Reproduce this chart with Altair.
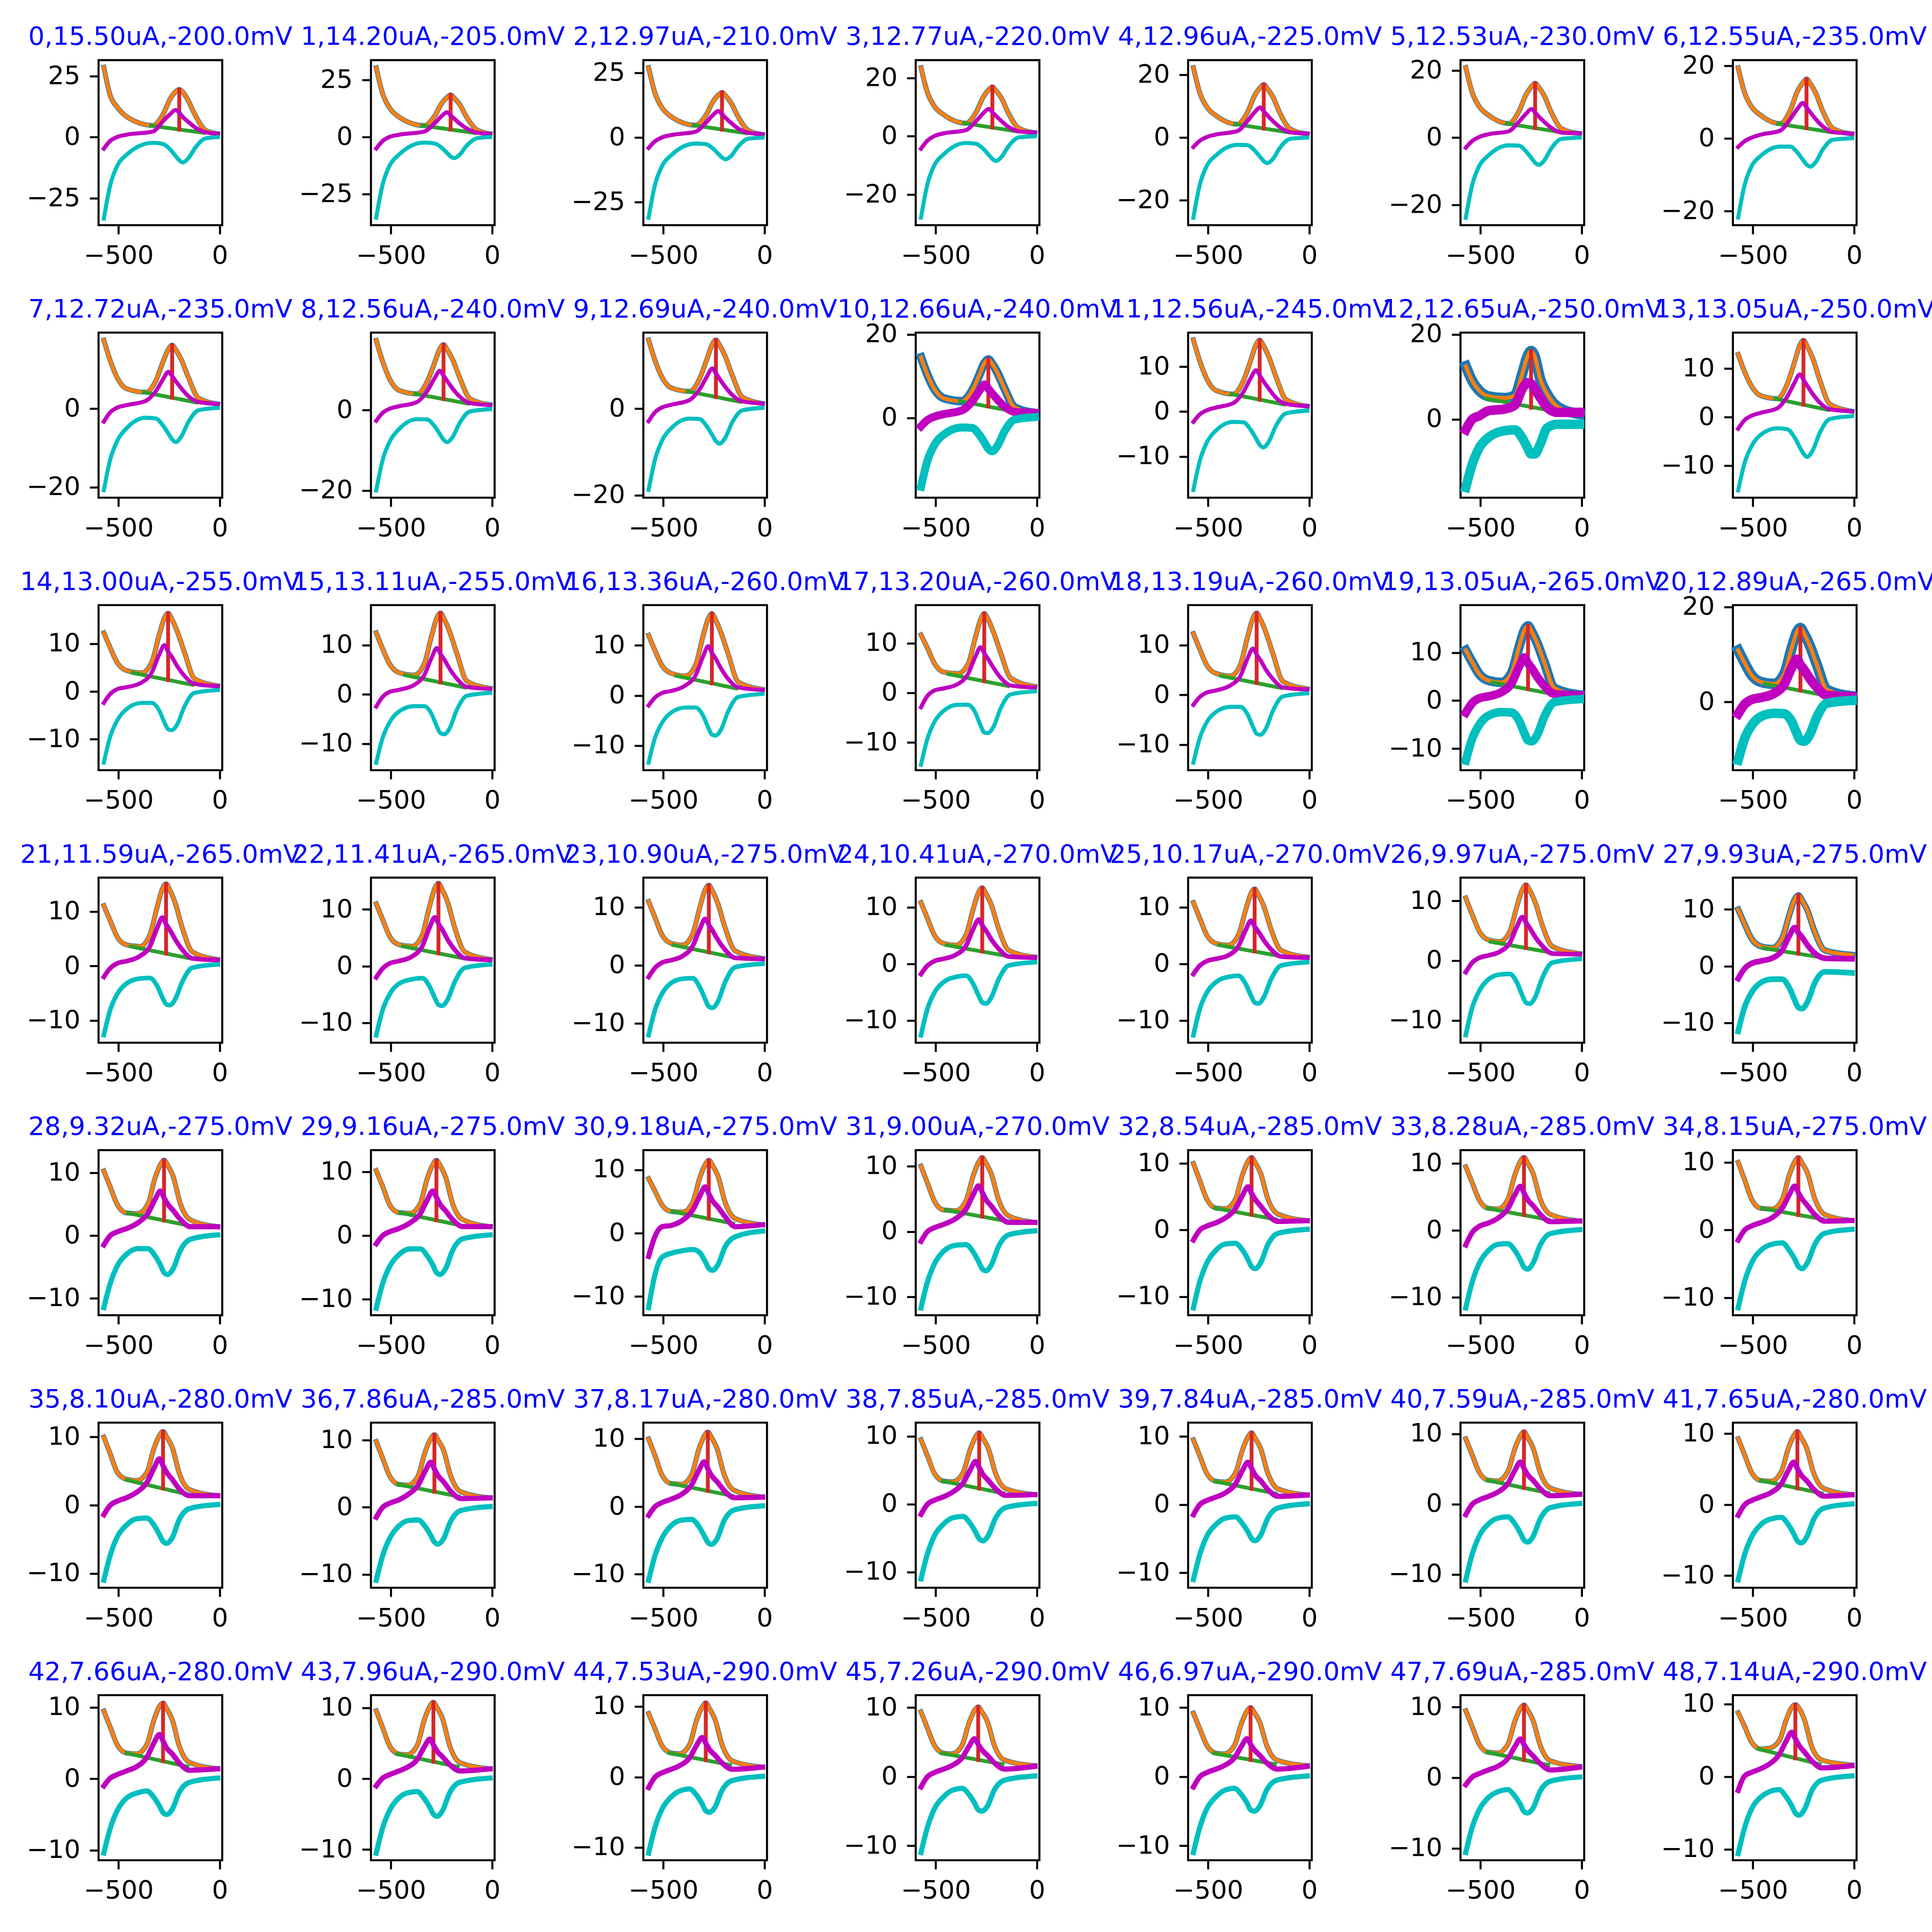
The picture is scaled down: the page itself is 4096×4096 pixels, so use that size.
import altair as alt
import pandas as pd

# ---------------- data ----------------
TITLES = [
    "0,15.50uA,-200.0mV", "1,14.20uA,-205.0mV", "2,12.97uA,-210.0mV", "3,12.77uA,-220.0mV",
    "4,12.96uA,-225.0mV", "5,12.53uA,-230.0mV", "6,12.55uA,-235.0mV",
    "7,12.72uA,-235.0mV", "8,12.56uA,-240.0mV", "9,12.69uA,-240.0mV", "10,12.66uA,-240.0mV",
    "11,12.56uA,-245.0mV", "12,12.65uA,-250.0mV", "13,13.05uA,-250.0mV",
    "14,13.00uA,-255.0mV", "15,13.11uA,-255.0mV", "16,13.36uA,-260.0mV", "17,13.20uA,-260.0mV",
    "18,13.19uA,-260.0mV", "19,13.05uA,-265.0mV", "20,12.89uA,-265.0mV",
    "21,11.59uA,-265.0mV", "22,11.41uA,-265.0mV", "23,10.90uA,-275.0mV", "24,10.41uA,-270.0mV",
    "25,10.17uA,-270.0mV", "26,9.97uA,-275.0mV", "27,9.93uA,-275.0mV",
    "28,9.32uA,-275.0mV", "29,9.16uA,-275.0mV", "30,9.18uA,-275.0mV", "31,9.00uA,-270.0mV",
    "32,8.54uA,-285.0mV", "33,8.28uA,-285.0mV", "34,8.15uA,-275.0mV",
    "35,8.10uA,-280.0mV", "36,7.86uA,-285.0mV", "37,8.17uA,-280.0mV", "38,7.85uA,-285.0mV",
    "39,7.84uA,-285.0mV", "40,7.59uA,-285.0mV", "41,7.65uA,-280.0mV",
    "42,7.66uA,-280.0mV", "43,7.96uA,-290.0mV", "44,7.53uA,-290.0mV", "45,7.26uA,-290.0mV",
    "46,6.97uA,-290.0mV", "47,7.69uA,-285.0mV", "48,7.14uA,-290.0mV",
]

PEAK_MV = [-200, -205, -210, -220, -225, -230, -235,
           -235, -240, -240, -240, -245, -250, -250,
           -255, -255, -260, -260, -260, -265, -265,
           -265, -265, -275, -270, -270, -275, -275,
           -275, -275, -275, -270, -285, -285, -275,
           -280, -285, -280, -285, -285, -285, -280,
           -280, -290, -290, -290, -290, -285, -290]

X_LIMITS = [-598, 12]
X_TICKS = [-500, 0]
# potentials of the sampled points: fixed ones on the left, ones around the peak, last one
X_LEFT = [-572, -540, -505, -460]
PEAK_OFFSETS = [-130, -80, -45, -18, 0, 18, 45, 80, 130]
X_END = -10

Y_LIMITS = [
    [-36.0, 31.5], [-38.5, 33.6], [-33.9, 30.0], [-30.6, 26.2], [-27.9, 24.7], [-26.1, 23.1], [-23.9, 21.5],
    [-22.7, 19.4], [-21.8, 19.2], [-20.6, 17.6], [-19.1, 20.4], [-19.2, 17.6], [-18.5, 20.4], [-16.6, 17.4],
    [-16.5, 18.1], [-15.4, 18.1], [-14.9, 18.0], [-15.6, 17.7], [-15.1, 18.0], [-14.5, 19.9], [-14.4, 20.4],
    [-14.1, 16.25], [-13.5, 15.6], [-13.3, 15.1], [-13.9, 15.2], [-13.9, 15.2], [-13.7, 13.9], [-13.5, 15.6],
    [-12.7, 13.6], [-12.5, 13.4], [-13.0, 13.1], [-12.8, 12.45], [-12.8, 12.0], [-12.7, 12.0], [-12.6, 11.8],
    [-12.1, 12.1], [-12.0, 12.6], [-12.0, 12.4], [-12.3, 12.0], [-12.2, 12.0], [-11.9, 11.6], [-11.7, 11.55],
    [-11.4, 11.7], [-11.5, 11.8], [-11.8, 11.6], [-12.1, 11.8], [-12.1, 11.8], [-11.7, 11.7], [-11.5, 11.2],
]

Y_TICKS = ([[-25, 0, 25]] * 3 + [[-20, 0, 20]] * 4 + [[-20, 0]] * 3 + [[0, 20]] + [[-10, 0, 10]]
           + [[0, 20]] + [[-10, 0, 10]] * 7 + [[0, 20]] + [[-10, 0, 10]] * 28)

# net current (blue raw, orange fit) at the sampled potentials
BLUE = [
    [28.6, 16.9, 12.2, 8.4, 4.8, 9.3, 15.6, 18.6, 19.5, 18.4, 14.8, 8.8, 2.8, 1.4],
    [30.3, 18.9, 12.6, 8.8, 5.0, 9.0, 14.6, 17.3, 18.4, 17.0, 14.2, 8.5, 3.1, 1.4],
    [27.1, 17.1, 11.5, 8.1, 4.8, 8.6, 13.9, 16.5, 17.5, 16.2, 13.4, 8.0, 2.8, 1.2],
    [23.6, 15.0, 10.2, 7.4, 4.5, 8.3, 13.5, 16.0, 17.0, 15.7, 13.1, 7.8, 2.8, 1.2],
    [22.3, 14.2, 9.7, 7.0, 4.3, 8.1, 13.4, 15.9, 16.9, 15.6, 13.0, 7.8, 2.8, 1.2],
    [20.9, 13.4, 9.2, 6.7, 4.2, 7.8, 12.8, 15.2, 16.2, 15.0, 12.5, 7.5, 2.7, 1.2],
    [19.4, 12.5, 8.6, 6.3, 4.0, 7.7, 12.9, 15.3, 16.3, 15.1, 12.5, 7.5, 2.7, 1.2],
    [17.5, 12.2, 7.8, 5.1, 4.2, 7.2, 12.0, 15.2, 16.2, 15.0, 12.5, 8.0, 2.7, 1.2],
    [17.3, 12.0, 7.6, 4.9, 4.0, 7.1, 11.6, 15.2, 16.2, 15.0, 12.5, 8.0, 2.8, 1.3],
    [15.9, 11.1, 7.2, 4.8, 4.0, 7.0, 11.4, 14.9, 15.9, 14.7, 12.2, 7.8, 2.7, 1.2],
    [14.5, 10.3, 6.8, 4.7, 4.0, 6.5, 10.2, 13.2, 14.0, 13.0, 10.8, 7.0, 2.5, 1.2],
    [16.0, 11.2, 7.2, 4.7, 3.9, 6.9, 11.3, 14.9, 15.9, 14.7, 12.2, 7.8, 2.7, 1.2],
    [12.5, 9.0, 6.7, 5.4, 5.0, 5.6, 10.5, 14.8, 16.1, 14.8, 9.5, 5.9, 3.0, 1.2],
    [12.9, 9.3, 6.3, 4.4, 3.8, 6.8, 11.2, 14.8, 15.8, 14.6, 12.2, 7.7, 2.7, 1.2],
    [12.3, 9.1, 6.0, 4.4, 3.9, 6.2, 11.7, 15.4, 16.4, 15.2, 12.6, 8.3, 2.7, 1.2],
    [12.5, 9.2, 6.1, 4.4, 3.9, 6.2, 11.7, 15.5, 16.5, 15.3, 12.7, 8.4, 2.7, 1.2],
    [12.0, 8.9, 5.9, 4.4, 3.9, 6.1, 11.6, 15.3, 16.3, 15.1, 12.5, 8.3, 2.7, 1.2],
    [11.7, 9.0, 5.9, 4.2, 3.9, 5.8, 11.0, 14.8, 16.0, 14.9, 12.3, 8.2, 3.0, 1.3],
    [12.3, 9.1, 5.9, 4.3, 3.8, 6.1, 11.6, 15.4, 16.4, 15.2, 12.6, 8.3, 2.7, 1.2],
    [10.5, 8.0, 5.5, 4.2, 3.8, 5.9, 11.1, 14.7, 15.6, 14.4, 12.0, 8.0, 2.6, 1.2],
    [10.9, 8.2, 5.6, 4.2, 3.8, 5.9, 11.1, 14.7, 15.6, 14.4, 12.0, 8.0, 2.6, 1.2],
    [11.1, 8.3, 5.3, 3.9, 3.6, 5.7, 10.7, 14.2, 15.1, 14.0, 11.6, 7.0, 2.6, 1.2],
    [11.0, 8.2, 5.2, 3.8, 3.5, 5.5, 10.4, 13.7, 14.6, 13.5, 11.3, 6.8, 2.5, 1.2],
    [11.0, 8.2, 5.2, 3.8, 3.5, 5.4, 9.9, 13.0, 13.8, 12.8, 10.6, 6.5, 2.5, 1.2],
    [10.8, 8.0, 5.0, 3.6, 3.3, 5.1, 9.6, 12.6, 13.4, 12.4, 10.4, 6.3, 2.4, 1.2],
    [10.8, 8.0, 5.0, 3.6, 3.3, 5.1, 9.4, 12.4, 13.2, 12.2, 10.2, 6.2, 2.4, 1.2],
    [10.5, 7.7, 4.9, 3.5, 3.2, 4.9, 9.1, 11.9, 12.7, 11.8, 9.8, 6.0, 2.4, 1.2],
    [10.0, 7.4, 4.8, 3.5, 3.2, 4.9, 9.0, 11.8, 12.5, 11.6, 9.8, 6.1, 2.8, 2.0],
    [10.3, 7.7, 4.9, 3.6, 3.5, 5.0, 9.1, 11.3, 12.0, 11.2, 9.4, 5.1, 2.5, 1.4],
    [10.2, 7.7, 4.8, 3.6, 3.5, 5.0, 9.0, 11.1, 11.8, 11.0, 9.2, 5.0, 2.5, 1.4],
    [8.6, 6.6, 4.4, 3.4, 3.3, 4.8, 8.7, 10.8, 11.5, 10.7, 9.0, 4.9, 2.3, 1.3],
    [10.0, 7.4, 4.6, 3.3, 3.2, 4.7, 8.5, 10.6, 11.3, 10.5, 8.8, 4.9, 2.4, 1.4],
    [10.0, 7.4, 4.6, 3.3, 3.2, 4.6, 8.3, 10.3, 10.9, 10.1, 8.5, 4.7, 2.4, 1.4],
    [9.5, 7.1, 4.5, 3.3, 3.2, 4.6, 8.3, 10.3, 10.9, 10.1, 8.5, 4.7, 2.4, 1.4],
    [10.0, 7.4, 4.5, 3.2, 3.1, 4.5, 8.1, 10.1, 10.7, 9.9, 8.4, 4.7, 2.3, 1.4],
    [10.0, 7.5, 4.8, 3.8, 3.6, 4.8, 8.3, 10.2, 10.8, 10.0, 8.5, 4.7, 2.3, 1.4],
    [9.8, 7.3, 4.6, 3.4, 3.3, 4.7, 8.3, 10.2, 10.8, 10.0, 8.5, 4.7, 2.3, 1.4],
    [10.0, 7.5, 4.6, 3.4, 3.3, 4.7, 8.4, 10.4, 11.0, 10.2, 8.6, 4.8, 2.4, 1.4],
    [9.5, 7.1, 4.5, 3.4, 3.3, 4.6, 8.0, 9.9, 10.5, 9.7, 8.2, 4.6, 2.3, 1.4],
    [9.5, 7.1, 4.5, 3.4, 3.3, 4.6, 8.0, 9.9, 10.5, 9.7, 8.2, 4.6, 2.3, 1.4],
    [9.3, 7.0, 4.5, 3.4, 3.3, 4.6, 7.9, 9.7, 10.3, 9.5, 8.0, 4.5, 2.3, 1.4],
    [9.3, 7.0, 4.5, 3.4, 3.3, 4.6, 7.9, 9.7, 10.3, 9.5, 8.0, 4.5, 2.3, 1.4],
    [9.5, 7.2, 4.7, 3.6, 3.5, 4.8, 8.2, 10.1, 10.6, 9.8, 8.3, 4.6, 2.3, 1.4],
    [9.6, 7.2, 4.6, 3.5, 3.4, 4.7, 8.3, 10.2, 10.8, 10.0, 8.5, 4.7, 2.3, 1.4],
    [9.0, 6.8, 4.4, 3.4, 3.3, 4.6, 8.1, 9.9, 10.5, 9.7, 8.2, 4.6, 2.3, 1.4],
    [9.4, 7.0, 4.5, 3.4, 3.3, 4.5, 7.8, 9.6, 10.1, 9.4, 8.0, 4.5, 2.4, 1.6],
    [9.2, 6.9, 4.5, 3.4, 3.3, 4.5, 7.7, 9.5, 10.0, 9.3, 7.9, 4.5, 2.4, 1.6],
    [9.5, 7.2, 4.7, 3.6, 3.5, 4.7, 8.0, 9.8, 10.3, 9.6, 8.1, 4.6, 2.4, 1.6],
    [8.8, 6.9, 4.7, 3.8, 3.9, 4.9, 7.8, 9.5, 9.9, 9.4, 7.8, 4.2, 2.3, 1.6],
]

# forward current (magenta)
MAGENTA = [
    [-4.7, -1.5, 0.1, 1.0, 2.3, 6.5, 9.4, 11.1, 10.0, 8.2, 6.2, 3.9, 2.0, 1.4],
    [-5.0, -1.7, 0.1, 1.0, 2.4, 5.9, 9.1, 10.8, 9.5, 8.0, 5.9, 3.7, 1.9, 1.4],
    [-4.0, -1.4, 0.1, 1.0, 2.3, 5.7, 8.7, 10.3, 9.1, 7.6, 5.7, 3.5, 1.9, 1.3],
    [-4.3, -1.5, 0.1, 1.0, 2.1, 5.2, 7.9, 9.4, 8.3, 7.0, 5.2, 3.2, 1.7, 1.3],
    [-3.0, -1.0, 0.2, 1.0, 2.1, 5.3, 8.1, 9.6, 8.4, 7.1, 5.3, 3.3, 1.7, 1.3],
    [-3.0, -1.0, 0.2, 1.0, 1.9, 4.7, 7.1, 8.5, 7.5, 6.3, 4.7, 2.9, 1.5, 1.3],
    [-2.4, -0.8, 0.2, 1.0, 2.1, 5.3, 8.1, 9.7, 8.5, 7.2, 5.3, 3.3, 1.7, 1.3],
    [-3.3, -0.9, 0.3, 0.9, 2.0, 4.5, 7.5, 9.4, 8.3, 7.0, 5.2, 3.2, 1.7, 1.2],
    [-2.7, -0.7, 0.3, 0.9, 2.0, 4.7, 7.8, 9.7, 8.5, 7.2, 5.3, 3.3, 1.7, 1.2],
    [-2.9, -0.8, 0.3, 0.9, 2.0, 4.5, 7.4, 9.3, 8.2, 6.9, 5.1, 3.2, 1.7, 1.2],
    [-2.0, -0.5, 0.3, 0.9, 1.8, 3.9, 6.4, 8.0, 7.0, 5.9, 4.4, 2.7, 1.4, 1.2],
    [-2.3, -0.6, 0.3, 0.9, 1.9, 4.4, 7.4, 9.2, 8.1, 6.8, 5.1, 3.1, 1.7, 1.2],
    [-2.5, 0.0, 0.8, 2.0, 2.4, 3.3, 7.0, 8.6, 8.4, 7.1, 5.1, 2.7, 1.6, 1.6],
    [-2.4, -0.6, 0.3, 0.9, 1.8, 4.2, 7.0, 8.8, 7.7, 6.5, 4.8, 3.0, 1.6, 1.2],
    [-2.4, -0.5, 0.5, 0.9, 1.9, 4.0, 7.6, 9.7, 8.4, 7.3, 5.3, 3.3, 1.6, 1.1],
    [-2.5, -0.5, 0.5, 0.9, 1.9, 3.9, 7.3, 9.4, 8.2, 7.1, 5.2, 3.2, 1.5, 1.1],
    [-2.0, -0.4, 0.5, 0.9, 2.0, 4.0, 7.6, 9.8, 8.5, 7.4, 5.4, 3.3, 1.6, 1.1],
    [-2.9, -0.6, 0.5, 0.9, 1.8, 3.8, 7.2, 9.2, 8.0, 6.9, 5.1, 3.1, 1.5, 1.1],
    [-2.0, -0.4, 0.5, 0.9, 1.9, 3.8, 7.3, 9.3, 8.1, 7.0, 5.1, 3.2, 1.5, 1.1],
    [-2.5, -0.5, 0.5, 0.9, 1.8, 3.7, 7.0, 9.0, 7.8, 6.8, 5.0, 3.1, 1.4, 1.1],
    [-2.5, -0.5, 0.5, 0.9, 1.8, 3.7, 7.0, 9.0, 7.8, 6.8, 5.0, 3.1, 1.4, 1.1],
    [-2.0, -0.4, 0.5, 0.9, 1.8, 3.6, 6.9, 8.9, 7.7, 6.7, 4.9, 3.0, 1.4, 1.1],
    [-2.0, -0.4, 0.5, 0.9, 1.7, 3.5, 6.7, 8.6, 7.5, 6.5, 4.7, 2.9, 1.4, 1.1],
    [-2.0, -0.4, 0.5, 0.9, 1.6, 3.3, 6.2, 8.0, 7.0, 6.0, 4.4, 2.7, 1.3, 1.1],
    [-1.8, -0.3, 0.5, 0.9, 1.6, 3.2, 6.1, 7.8, 6.8, 5.9, 4.3, 2.7, 1.3, 1.1],
    [-1.8, -0.3, 0.5, 0.9, 1.5, 3.1, 5.9, 7.6, 6.6, 5.7, 4.2, 2.6, 1.3, 1.1],
    [-1.9, -0.3, 0.5, 0.9, 1.5, 3.0, 5.7, 7.3, 6.4, 5.5, 4.0, 2.5, 1.2, 1.1],
    [-2.2, -0.4, 0.5, 0.9, 1.4, 2.8, 5.3, 6.8, 5.9, 5.1, 3.7, 2.3, 1.4, 1.3],
    [-1.5, 0.0, 0.6, 1.1, 2.0, 3.5, 5.7, 7.1, 6.0, 5.0, 4.0, 2.6, 1.4, 1.4],
    [-1.3, 0.0, 0.6, 1.1, 2.0, 3.4, 5.6, 7.0, 6.0, 4.9, 3.9, 2.5, 1.4, 1.4],
    [-3.7, -0.5, 1.0, 1.2, 2.0, 3.6, 5.8, 7.3, 6.2, 5.1, 4.1, 2.6, 1.0, 1.3],
    [-1.5, 0.0, 0.6, 1.1, 2.0, 3.4, 5.6, 7.0, 6.0, 4.9, 3.9, 2.5, 1.4, 1.4],
    [-1.5, 0.0, 0.6, 1.1, 1.8, 3.2, 5.2, 6.5, 5.5, 4.6, 3.6, 2.3, 1.3, 1.4],
    [-2.2, -0.3, 0.6, 1.1, 1.8, 3.2, 5.3, 6.6, 5.6, 4.6, 3.7, 2.4, 1.3, 1.4],
    [-1.5, 0.0, 0.6, 1.1, 1.8, 3.2, 5.2, 6.5, 5.5, 4.6, 3.6, 2.3, 1.3, 1.4],
    [-1.4, 0.0, 0.6, 1.1, 1.9, 3.3, 5.4, 6.8, 5.8, 4.8, 3.8, 2.4, 1.4, 1.4],
    [-1.5, 0.0, 0.6, 1.1, 1.9, 3.3, 5.4, 6.7, 5.7, 4.7, 3.8, 2.4, 1.3, 1.4],
    [-1.3, 0.0, 0.6, 1.1, 1.8, 3.2, 5.3, 6.6, 5.6, 4.6, 3.7, 2.4, 1.3, 1.4],
    [-1.5, 0.0, 0.6, 1.1, 1.8, 3.1, 5.0, 6.3, 5.4, 4.4, 3.5, 2.3, 1.3, 1.4],
    [-1.5, 0.0, 0.6, 1.1, 1.7, 3.0, 5.0, 6.2, 5.3, 4.3, 3.5, 2.2, 1.2, 1.4],
    [-1.5, 0.0, 0.6, 1.1, 1.7, 2.9, 4.8, 6.0, 5.1, 4.2, 3.4, 2.2, 1.2, 1.4],
    [-1.5, 0.0, 0.6, 1.1, 1.7, 2.9, 4.8, 6.0, 5.1, 4.2, 3.4, 2.2, 1.2, 1.4],
    [-1.0, 0.1, 0.6, 1.1, 1.7, 3.0, 5.0, 6.2, 5.3, 4.3, 3.5, 2.2, 1.2, 1.4],
    [-1.0, 0.1, 0.6, 1.1, 1.6, 2.7, 4.5, 5.6, 4.8, 3.9, 3.1, 2.0, 1.1, 1.4],
    [-1.5, 0.0, 0.6, 1.1, 1.6, 2.7, 4.5, 5.6, 4.8, 3.9, 3.1, 2.0, 1.1, 1.4],
    [-1.5, 0.0, 0.6, 1.1, 1.6, 2.7, 4.4, 5.5, 4.7, 3.9, 3.1, 2.0, 1.1, 1.5],
    [-1.5, 0.0, 0.6, 1.1, 1.6, 2.7, 4.4, 5.5, 4.7, 3.9, 3.1, 2.0, 1.1, 1.5],
    [-1.0, 0.1, 0.6, 1.1, 1.6, 2.7, 4.4, 5.5, 4.7, 3.9, 3.1, 2.0, 1.1, 1.5],
    [-1.9, 0.1, 0.6, 1.1, 1.7, 3.0, 4.9, 6.1, 5.2, 4.3, 3.4, 2.2, 1.2, 1.5],
]

# reverse current (cyan)
CYAN = [
    [-33.3, -19.5, -11.6, -7.2, -2.3, -2.8, -5.0, -7.7, -9.4, -10.3, -8.6, -4.2, -0.5, 0.0],
    [-35.2, -20.6, -12.3, -7.7, -2.4, -2.8, -4.6, -6.9, -8.5, -9.2, -7.7, -3.7, -0.5, 0.0],
    [-31.0, -18.1, -10.9, -6.8, -2.3, -2.5, -4.2, -6.3, -7.7, -8.4, -7.1, -3.4, -0.4, 0.0],
    [-28.0, -16.4, -9.8, -6.2, -2.3, -2.6, -4.3, -6.4, -7.8, -8.5, -7.1, -3.4, -0.4, 0.0],
    [-25.5, -14.9, -8.9, -5.6, -2.3, -2.4, -4.1, -6.1, -7.5, -8.1, -6.8, -3.2, -0.4, 0.0],
    [-23.9, -14.0, -8.4, -5.3, -2.3, -2.4, -4.1, -6.1, -7.5, -8.1, -6.8, -3.2, -0.4, 0.0],
    [-21.8, -12.8, -7.6, -4.8, -2.3, -2.3, -3.9, -5.9, -7.2, -7.8, -6.6, -3.1, -0.4, 0.0],
    [-20.8, -12.9, -8.1, -5.0, -2.3, -2.5, -4.3, -6.4, -7.8, -8.5, -7.1, -3.4, -0.4, 0.2],
    [-20.0, -12.4, -7.8, -4.8, -2.3, -2.4, -4.0, -6.0, -7.4, -8.0, -6.7, -3.2, -0.4, 0.2],
    [-18.8, -11.7, -7.3, -4.5, -2.3, -2.4, -4.1, -6.1, -7.5, -8.1, -6.8, -3.2, -0.4, 0.2],
    [-16.5, -10.2, -6.4, -4.0, -2.3, -2.4, -4.0, -6.0, -7.4, -8.0, -6.7, -3.2, -0.4, 0.2],
    [-17.5, -10.9, -6.8, -4.2, -2.3, -2.4, -4.0, -6.0, -7.4, -8.0, -6.7, -3.2, -0.4, 0.2],
    [-16.1, -10.6, -6.7, -4.3, -2.7, -2.5, -4.3, -6.7, -8.2, -8.2, -5.9, -2.0, -1.2, -1.2],
    [-15.1, -9.4, -5.9, -3.6, -2.3, -2.5, -4.1, -6.2, -7.5, -8.2, -6.9, -3.3, -0.4, 0.2],
    [-14.9, -9.4, -6.0, -3.7, -2.4, -2.4, -3.9, -6.5, -7.9, -8.1, -6.9, -3.2, -0.3, 0.3],
    [-13.9, -8.8, -5.6, -3.5, -2.4, -2.4, -3.9, -6.5, -7.9, -8.1, -6.9, -3.2, -0.3, 0.3],
    [-13.4, -8.4, -5.4, -3.4, -2.4, -2.4, -3.9, -6.4, -7.8, -8.0, -6.8, -3.2, -0.3, 0.3],
    [-14.5, -9.2, -5.8, -3.6, -2.4, -2.4, -3.9, -6.6, -8.0, -8.1, -6.9, -3.2, -0.3, 0.3],
    [-13.6, -8.6, -5.4, -3.4, -2.4, -2.4, -3.9, -6.4, -7.8, -8.0, -6.8, -3.2, -0.3, 0.3],
    [-12.5, -7.9, -5.0, -3.1, -2.4, -2.5, -4.1, -6.8, -8.3, -8.5, -7.2, -3.4, -0.3, 0.3],
    [-12.3, -7.7, -4.9, -3.1, -2.4, -2.5, -4.0, -6.6, -8.1, -8.3, -7.0, -3.3, -0.3, 0.3],
    [-12.7, -8.0, -5.1, -3.2, -2.3, -2.2, -3.6, -5.8, -7.0, -7.2, -6.1, -2.9, -0.3, 0.3],
    [-12.2, -7.7, -4.9, -3.1, -2.3, -2.1, -3.5, -5.6, -6.8, -7.0, -5.9, -2.8, -0.3, 0.3],
    [-12.0, -7.6, -4.8, -3.0, -2.3, -2.2, -3.7, -5.8, -7.1, -7.3, -6.2, -2.9, -0.3, 0.3],
    [-12.6, -7.9, -5.0, -3.2, -2.3, -2.1, -3.5, -5.6, -6.8, -7.0, -5.9, -2.8, -0.3, 0.3],
    [-12.6, -7.9, -5.0, -3.2, -2.3, -2.1, -3.5, -5.6, -6.8, -7.0, -5.9, -2.8, -0.3, 0.3],
    [-12.4, -7.8, -5.0, -3.1, -2.3, -2.2, -3.6, -5.8, -7.0, -7.2, -6.1, -2.9, -0.3, 0.3],
    [-11.5, -7.2, -4.6, -2.9, -2.3, -2.3, -3.8, -6.0, -7.3, -7.5, -6.3, -3.0, -1.0, -1.2],
    [-11.5, -7.6, -4.8, -3.0, -2.1, -2.1, -3.2, -4.7, -5.9, -6.2, -5.3, -2.4, -0.6, 0.1],
    [-11.4, -7.5, -4.8, -3.0, -2.1, -2.1, -3.2, -4.6, -5.8, -6.1, -5.2, -2.3, -0.5, 0.1],
    [-11.8, -6.5, -3.8, -3.2, -2.8, -2.6, -3.1, -4.5, -5.6, -5.9, -5.0, -2.2, -0.6, 0.3],
    [-11.7, -7.7, -4.9, -3.0, -2.1, -2.0, -3.1, -4.6, -5.7, -6.0, -5.1, -2.3, -0.5, 0.1],
    [-11.7, -7.7, -4.9, -3.0, -2.1, -2.0, -3.0, -4.4, -5.5, -5.8, -4.9, -2.2, -0.5, 0.1],
    [-11.6, -7.7, -4.9, -3.0, -2.1, -2.0, -3.0, -4.4, -5.5, -5.8, -4.9, -2.2, -0.5, 0.1],
    [-11.5, -7.6, -4.8, -3.0, -2.1, -1.9, -3.0, -4.3, -5.4, -5.7, -4.8, -2.2, -0.5, 0.1],
    [-11.0, -7.3, -4.6, -2.9, -2.0, -1.9, -2.9, -4.3, -5.3, -5.6, -4.8, -2.1, -0.5, 0.1],
    [-10.9, -7.2, -4.6, -2.8, -2.0, -1.9, -2.9, -4.2, -5.2, -5.5, -4.7, -2.1, -0.5, 0.1],
    [-10.9, -7.2, -4.6, -2.8, -2.0, -1.9, -2.9, -4.3, -5.3, -5.6, -4.8, -2.1, -0.5, 0.1],
    [-11.0, -7.3, -4.6, -2.9, -2.0, -1.8, -2.8, -4.1, -5.1, -5.4, -4.6, -2.1, -0.5, 0.1],
    [-11.0, -7.3, -4.6, -2.9, -2.0, -1.8, -2.8, -4.0, -5.0, -5.3, -4.5, -2.0, -0.5, 0.1],
    [-10.8, -7.1, -4.5, -2.8, -2.0, -1.8, -2.8, -4.1, -5.1, -5.4, -4.6, -2.1, -0.5, 0.1],
    [-10.6, -7.0, -4.5, -2.8, -2.0, -1.8, -2.8, -4.1, -5.1, -5.4, -4.6, -2.1, -0.5, 0.1],
    [-10.4, -6.9, -4.4, -2.7, -2.0, -1.7, -2.6, -3.8, -4.75, -5.0, -4.3, -1.9, -0.5, 0.1],
    [-10.5, -6.9, -4.4, -2.7, -2.0, -1.8, -2.8, -4.0, -5.0, -5.3, -4.5, -2.0, -0.5, 0.1],
    [-10.8, -7.1, -4.5, -2.8, -2.0, -1.7, -2.6, -3.8, -4.8, -5.0, -4.3, -1.9, -0.5, 0.1],
    [-11.0, -7.3, -4.6, -2.9, -2.0, -1.7, -2.6, -3.8, -4.8, -5.0, -4.3, -1.9, -0.5, 0.1],
    [-11.0, -7.3, -4.6, -2.9, -2.0, -1.7, -2.6, -3.8, -4.8, -5.0, -4.3, -1.9, -0.5, 0.1],
    [-10.6, -7.0, -4.5, -2.8, -2.0, -1.7, -2.6, -3.8, -4.8, -5.0, -4.3, -1.9, -0.5, 0.1],
    [-10.6, -7.0, -4.4, -2.8, -2.1, -1.8, -2.8, -4.0, -5.0, -5.3, -4.5, -2.0, -0.5, 0.1],
]

# baseline (green): [x_left, y_left, x_right, y_right]
BASELINE = [
    [-340, 4.7, -80, 1.8], [-345, 5.0, -85, 1.8], [-350, 4.8, -90, 1.7], [-360, 4.5, -100, 1.7],
    [-365, 4.3, -105, 1.7], [-370, 4.2, -110, 1.7], [-375, 4.0, -115, 1.7],
    [-375, 4.2, -115, 1.6], [-380, 4.0, -120, 1.6], [-380, 4.0, -120, 1.6], [-380, 4.0, -120, 1.6],
    [-385, 3.9, -125, 1.6], [-474, 4.9, -191, 2.35], [-390, 3.8, -130, 1.5],
    [-430, 3.9, -135, 1.4], [-430, 3.9, -135, 1.4], [-435, 3.9, -140, 1.4], [-437, 3.8, -144, 1.4],
    [-435, 3.8, -140, 1.4], [-440, 3.8, -145, 1.4], [-440, 3.8, -145, 1.4],
    [-440, 3.6, -145, 1.4], [-440, 3.5, -145, 1.4], [-450, 3.5, -155, 1.4], [-445, 3.3, -150, 1.4],
    [-445, 3.3, -150, 1.4], [-450, 3.2, -155, 1.4], [-450, 3.2, -155, 1.5],
    [-455, 3.6, -155, 1.6], [-455, 3.6, -155, 1.6], [-455, 3.4, -155, 1.5], [-450, 3.3, -150, 1.6],
    [-465, 3.3, -165, 1.6], [-465, 3.3, -165, 1.6], [-455, 3.2, -155, 1.6],
    [-460, 3.7, -160, 1.6], [-465, 3.4, -165, 1.6], [-460, 3.4, -160, 1.6], [-465, 3.4, -165, 1.6],
    [-465, 3.4, -165, 1.6], [-465, 3.4, -165, 1.6], [-460, 3.4, -160, 1.6],
    [-460, 3.6, -160, 1.7], [-470, 3.5, -170, 1.7], [-470, 3.4, -170, 1.7], [-470, 3.4, -170, 1.8],
    [-470, 3.4, -170, 1.8], [-465, 3.6, -165, 1.8], [-472, 3.8, -170, 1.7],
]

# lower end of the red peak marker (on the baseline)
RED_LOW = [3.1, 3.3, 3.1, 3.0, 2.9, 2.85, 2.8,
           2.8, 2.7, 2.7, 2.7, 2.65, 2.7, 2.55,
           2.4, 2.4, 2.4, 2.35, 2.4, 2.4, 2.4,
           2.3, 2.25, 2.25, 2.2, 2.2, 2.15, 2.2,
           2.4, 2.4, 2.26, 2.3, 2.3, 2.3, 2.2,
           2.45, 2.3, 2.3, 2.3, 2.3, 2.3, 2.3,
           2.45, 2.4, 2.4, 2.4, 2.4, 2.5, 2.5]

# ---------------- style ----------------
S = 0.975
W, H = 269 * S, 359 * S
FS = 55.6 * S
LW = 8.33 * S
FRAME = 4.44 * S
FONT = "DejaVu Sans"
C_RAW, C_FIT, C_BASE, C_PEAK, C_FWD, C_REV = "#1f77b4", "#ff7f0e", "#2ca02c", "#d62728", "#bf00bf", "#00bfbf"

# stroke widths (blue raw, magenta/cyan) for the panels whose raw signal is noisy
NOISY = {10: (18, 17), 12: (22, 20), 19: (20, 18), 20: (22, 20), 27: (13, 12)}


def widths(i):
    if i in NOISY:
        return NOISY[i]
    row = i // 7
    if row <= 2:
        return (10.5, 8.6)
    if row == 3:
        return (10.5, 9.8)
    return (10.5, 11.0)


def axis(values, pad):
    return alt.Axis(values=values, title=None, grid=False, domain=False, ticks=True,
                    tickSize=19.4 * S, tickWidth=FRAME, tickColor="black",
                    labelColor="black", labelFont=FONT, labelFontSize=FS,
                    labelPadding=pad, labelFlush=False, labelOverlap=False)


def panel(i):
    p = PEAK_MV[i]
    xs = X_LEFT + [p + o for o in PEAK_OFFSETS] + [X_END]
    xsc = alt.Scale(domain=X_LIMITS, nice=False, zero=False)
    ysc = alt.Scale(domain=Y_LIMITS[i], nice=False, zero=False)
    X = alt.X("x:Q", scale=xsc, axis=axis(X_TICKS, 19))
    Y = alt.Y("y:Q", scale=ysc, axis=axis(Y_TICKS[i], 20))
    bw, mw = widths(i)

    net = pd.DataFrame({"x": xs, "y": BLUE[i]})
    fwd = pd.DataFrame({"x": xs, "y": MAGENTA[i]})
    rev = pd.DataFrame({"x": xs, "y": CYAN[i]})
    bl = BASELINE[i]
    base = pd.DataFrame({"x": [bl[0], bl[2]], "y": [bl[1], bl[3]]})
    peak = pd.DataFrame({"x": [p], "y": [RED_LOW[i]], "y2": [BLUE[i][8]]})
    ttl = pd.DataFrame({"t": [TITLES[i]]})

    def line(df, color, width, smooth=True):
        kw = dict(color=color, strokeWidth=width, strokeCap="square", strokeJoin="round")
        if smooth:
            kw["interpolate"] = "monotone"
        return alt.Chart(df).mark_line(**kw).encode(x=X, y=Y)

    layers = [
        line(net, C_RAW, bw),
        line(net, C_FIT, LW),
        line(base, C_BASE, LW, smooth=False),
        alt.Chart(peak).mark_rule(color=C_PEAK, strokeWidth=LW, strokeCap="square").encode(
            x=X, y=Y, y2="y2:Q"),
        line(fwd, C_FWD, mw),
        line(rev, C_REV, mw),
        alt.Chart(ttl).mark_text(font=FONT, fontSize=FS, color="#0000ff", align="center",
                                 baseline="alphabetic").encode(
            text="t:N", x=alt.value(W / 2), y=alt.value(-33 * S)),
    ]
    return alt.layer(*layers).properties(width=W, height=H)


panels = [panel(i) for i in range(49)]

chart = alt.concat(
    *panels,
    columns=7,
    spacing={"row": 591.7 * S - H, "column": 591.7 * S - W},
    bounds="flush",
    padding={"left": 40, "top": 49, "right": -9, "bottom": 5},
).configure(background="white").configure_view(stroke="black", strokeWidth=FRAME, fill="white")

chart.save("out.html", embed_options={"renderer": "svg", "actions": False})
